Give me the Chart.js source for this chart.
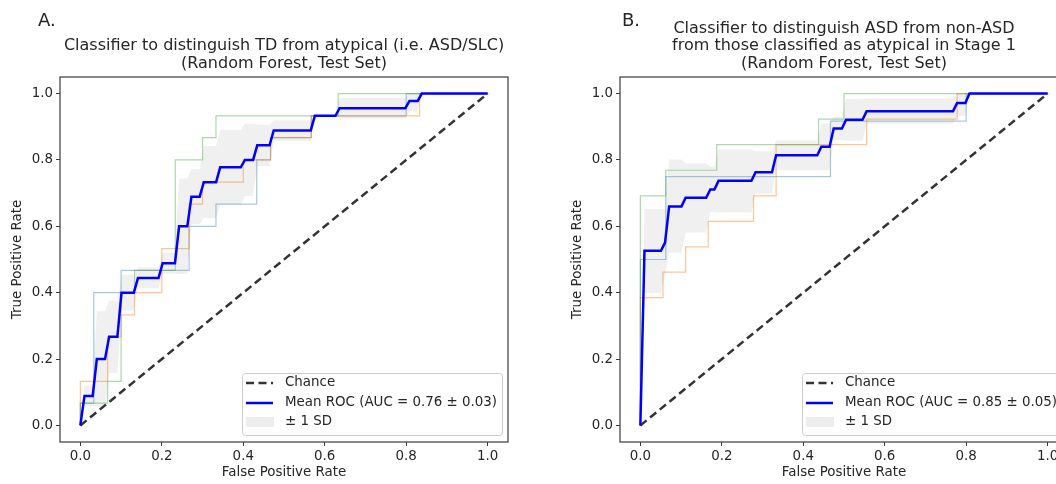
<!DOCTYPE html>
<html>
<head>
<meta charset="utf-8">
<script src="https://cdn.jsdelivr.net/npm/chart.js@4.4.0/dist/chart.umd.min.js"></script>
<style>
    html, body { margin: 0; padding: 0; background: #fff; overflow: hidden; width: 1056px; height: 484px; }
    canvas { position: absolute; top: 0; }
    #rocA { left: 0; }
    #rocB { left: 560px; }
</style>
</head>
<body>
<canvas id="rocA" width="528" height="484"></canvas>
<canvas id="rocB" width="528" height="484"></canvas>
<script>
// Shared ticks for both ROC panels
const xTicks = [0, 0.2, 0.4, 0.6, 0.8, 1.0];
const yTicks = [0, 0.2, 0.4, 0.6, 0.8, 1.0];
const chanceLine = [0, 1];

// Stage 1: TD vs atypical, ROC corners of the three folds
const foldA1Fpr = [0, 0, 0.033, 0.033, 0.1, 0.1, 0.267, 0.267, 0.333, 0.333, 0.433, 0.433, 0.467, 0.467, 0.567, 0.567, 0.8, 0.8, 1];
const foldA1Tpr = [0, 0.067, 0.067, 0.4, 0.4, 0.467, 0.467, 0.6, 0.6, 0.667, 0.667, 0.8, 0.8, 0.867, 0.867, 0.933, 0.933, 1, 1];
const foldA2Fpr = [0, 0, 0.067, 0.067, 0.1, 0.1, 0.133, 0.133, 0.2, 0.2, 0.267, 0.267, 0.3, 0.3, 0.4, 0.4, 0.467, 0.467, 0.567, 0.567, 0.833, 0.833, 1];
const foldA2Tpr = [0, 0.133, 0.133, 0.267, 0.267, 0.333, 0.333, 0.4, 0.4, 0.533, 0.533, 0.667, 0.667, 0.733, 0.733, 0.8, 0.8, 0.867, 0.867, 0.933, 0.933, 1, 1];
const foldA3Fpr = [0, 0, 0.067, 0.067, 0.1, 0.1, 0.133, 0.133, 0.233, 0.233, 0.3, 0.3, 0.333, 0.333, 0.633, 0.633, 1];
const foldA3Tpr = [0, 0.067, 0.067, 0.133, 0.133, 0.4, 0.4, 0.467, 0.467, 0.8, 0.8, 0.867, 0.867, 0.933, 0.933, 1, 1];

// Stage 1 mean ROC and +/- 1 SD band
const meanAFpr = [0, 0.0101, 0.0303, 0.0404, 0.0606, 0.0707, 0.0909, 0.1010, 0.1313, 0.1414, 0.1919, 0.2020, 0.2323, 0.2424, 0.2626, 0.2727, 0.2929, 0.3030, 0.3333, 0.3434, 0.3939, 0.4040, 0.4242, 0.4343, 0.4646, 0.4747, 0.5657, 0.5758, 0.6263, 0.6364, 0.7980, 0.8081, 0.8283, 0.8384, 1];
const meanATpr = [0, 0.089, 0.089, 0.2, 0.2, 0.267, 0.267, 0.4, 0.4, 0.444, 0.444, 0.489, 0.489, 0.6, 0.6, 0.689, 0.689, 0.733, 0.733, 0.778, 0.778, 0.8, 0.8, 0.844, 0.844, 0.889, 0.889, 0.933, 0.933, 0.956, 0.956, 0.978, 0.978, 1, 1];
const lowA = [0, 0.058, 0.058, 0.056, 0.056, 0.158, 0.158, 0.346, 0.346, 0.413, 0.413, 0.457, 0.457, 0.456, 0.456, 0.606, 0.606, 0.624, 0.624, 0.664, 0.664, 0.691, 0.691, 0.782, 0.782, 0.857, 0.857, 0.933, 0.933, 0.924, 0.924, 0.946, 0.946, 1, 1];
const highA = [0, 0.120, 0.120, 0.344, 0.344, 0.376, 0.376, 0.454, 0.454, 0.476, 0.476, 0.520, 0.520, 0.744, 0.744, 0.772, 0.772, 0.842, 0.842, 0.891, 0.891, 0.909, 0.909, 0.907, 0.907, 0.920, 0.920, 0.933, 0.933, 0.987, 0.987, 1, 1, 1, 1];

// Stage 2: ASD vs non-ASD, ROC corners of the three folds
const foldB1Fpr = [0, 0, 0.0625, 0.0625, 0.4667, 0.4667, 0.8, 0.8, 1];
const foldB1Tpr = [0, 0.5, 0.5, 0.75, 0.75, 0.917, 0.917, 1, 1];
const foldB2Fpr = [0, 0, 0.0556, 0.0556, 0.1111, 0.1111, 0.1667, 0.1667, 0.2778, 0.2778, 0.3333, 0.3333, 0.5556, 0.5556, 0.7778, 0.7778, 1];
const foldB2Tpr = [0, 0.385, 0.385, 0.462, 0.462, 0.538, 0.538, 0.615, 0.615, 0.692, 0.692, 0.846, 0.846, 0.923, 0.923, 1, 1];
const foldB3Fpr = [0, 0, 0.0625, 0.0625, 0.1875, 0.1875, 0.4375, 0.4375, 0.5, 0.5, 1];
const foldB3Tpr = [0, 0.692, 0.692, 0.769, 0.769, 0.846, 0.846, 0.923, 0.923, 1, 1];

// Stage 2 mean ROC and +/- 1 SD band
const meanBFpr = [0, 0.0101, 0.0505, 0.0606, 0.0707, 0.1010, 0.1111, 0.1616, 0.1717, 0.1818, 0.1919, 0.2727, 0.2828, 0.3232, 0.3333, 0.4343, 0.4444, 0.4646, 0.4747, 0.4949, 0.5051, 0.5455, 0.5556, 0.7677, 0.7778, 0.7980, 0.8081, 1];
const meanBTpr = [0, 0.526, 0.526, 0.551, 0.660, 0.660, 0.686, 0.686, 0.711, 0.711, 0.737, 0.737, 0.763, 0.763, 0.814, 0.814, 0.840, 0.840, 0.895, 0.895, 0.921, 0.921, 0.947, 0.947, 0.972, 0.972, 1, 1];
const lowB = [0, 0.399, 0.399, 0.451, 0.520, 0.520, 0.581, 0.581, 0.643, 0.643, 0.642, 0.642, 0.699, 0.699, 0.769, 0.769, 0.769, 0.769, 0.860, 0.860, 0.858, 0.858, 0.909, 0.909, 0.933, 0.933, 1, 1];
const highB = [0, 0.652, 0.652, 0.652, 0.801, 0.801, 0.790, 0.790, 0.780, 0.780, 0.832, 0.832, 0.826, 0.826, 0.859, 0.859, 0.910, 0.910, 0.930, 0.930, 0.984, 0.984, 0.985, 0.985, 1, 1, 1, 1];

const titleA = ['Classifier to distinguish TD from atypical (i.e. ASD/SLC)', '(Random Forest, Test Set)'];
const titleB = ['Classifier to distinguish ASD from non-ASD', 'from those classified as atypical in Stage 1', '(Random Forest, Test Set)'];
const aucA = 'Mean ROC (AUC = 0.76 \u00b1 0.03)';
const aucB = 'Mean ROC (AUC = 0.85 \u00b1 0.05)';

const FONT = "'DejaVu Sans', sans-serif";
const TEXT = '#262626';
const foldColors = ['rgba(31, 119, 180, 0.4)', 'rgba(255, 127, 14, 0.45)', 'rgba(44, 160, 44, 0.4)'];
const bandColor = 'rgba(128, 128, 128, 0.12)';
const chanceColor = 'rgba(0, 0, 0, 0.8)';
const meanColor = '#0000ff';

function pts(xs, ys) {
    return xs.map((x, i) => ({ x: x, y: ys[i] }));
}

// Frame, panel letter, title and legend box
const panelDecor = {
    id: 'panelDecor',
    afterDraw(chart, args, opts) {
        const ctx = chart.ctx;
        const a = chart.chartArea;
        ctx.save();

        // axes frame on all four sides
        ctx.strokeStyle = '#3a3a3a';
        ctx.lineWidth = 1.2;
        ctx.strokeRect(a.left, a.top, a.right - a.left, a.bottom - a.top);

        // panel letter
        ctx.fillStyle = TEXT;
        ctx.font = '18px ' + FONT;
        ctx.textAlign = 'left';
        ctx.textBaseline = 'middle';
        ctx.fillText(opts.letter, opts.letterX, 21);

        // title, last line sits just above the frame
        ctx.font = '16px ' + FONT;
        ctx.textAlign = 'center';
        const cx = (a.left + a.right) / 2;
        const n = opts.title.length;
        opts.title.forEach((line, i) => {
            ctx.fillText(line, cx, 64 - (n - 1 - i) * 17.8);
        });

        // legend box in the lower right corner
        const w = 260, h = 62;
        const bx = a.right - 6 - w, by = a.bottom - 7 - h;
        ctx.beginPath();
        ctx.roundRect(bx + 0.5, by + 0.5, w, h, 3);
        ctx.fillStyle = 'rgba(255, 255, 255, 0.8)';
        ctx.fill();
        ctx.strokeStyle = '#cccccc';
        ctx.lineWidth = 1;
        ctx.stroke();

        const rows = [by + 10, by + 30, by + 49];
        ctx.lineWidth = 2.5;
        ctx.setLineDash([8, 4.5]);
        ctx.strokeStyle = chanceColor;
        ctx.beginPath();
        ctx.moveTo(bx + 4, rows[0]);
        ctx.lineTo(bx + 31, rows[0]);
        ctx.stroke();
        ctx.setLineDash([]);
        ctx.strokeStyle = meanColor;
        ctx.beginPath();
        ctx.moveTo(bx + 4, rows[1]);
        ctx.lineTo(bx + 31, rows[1]);
        ctx.stroke();
        ctx.fillStyle = 'rgba(128, 128, 128, 0.14)';
        ctx.fillRect(bx + 4, rows[2] - 5, 28, 10);

        ctx.fillStyle = TEXT;
        ctx.font = '13.4px ' + FONT;
        ctx.textAlign = 'left';
        ctx.fillText('Chance', bx + 43, rows[0]);
        ctx.fillText(opts.auc, bx + 43, rows[1]);
        ctx.fillText('\u00b1 1 SD', bx + 43, rows[2]);
        ctx.restore();
    }
};

function foldSet(xs, ys, color) {
    return {
        data: pts(xs, ys),
        borderColor: color,
        borderWidth: 1.2,
        pointRadius: 0,
        fill: false
    };
}

function makeRoc(canvasId, folds, meanFpr, meanTpr, low, high, decor) {
    // datasets listed top-most first (Chart.js paints the last one first)
    const datasets = [
        {
            label: 'Mean ROC',
            data: pts(meanFpr, meanTpr),
            borderColor: meanColor,
            borderWidth: 2.5,
            pointRadius: 0,
            fill: false
        },
        {
            label: '+1 SD',
            data: pts(meanFpr, high),
            borderWidth: 0,
            borderColor: 'rgba(0,0,0,0)',
            backgroundColor: bandColor,
            pointRadius: 0,
            fill: { target: 2 }
        },
        {
            label: '-1 SD',
            data: pts(meanFpr, low),
            borderWidth: 0,
            borderColor: 'rgba(0,0,0,0)',
            pointRadius: 0,
            fill: false
        },
        {
            label: 'Chance',
            data: pts(chanceLine, chanceLine),
            borderColor: chanceColor,
            borderWidth: 2.5,
            borderDash: [8, 4.5],
            pointRadius: 0,
            fill: false
        },
        foldSet(folds[2][0], folds[2][1], foldColors[2]),
        foldSet(folds[1][0], folds[1][1], foldColors[1]),
        foldSet(folds[0][0], folds[0][1], foldColors[0])
    ];

    const tickFont = { family: FONT, size: 13.4 };
    return new Chart(document.getElementById(canvasId), {
        type: 'line',
        data: { datasets: datasets },
        options: {
            responsive: false,
            animation: false,
            devicePixelRatio: 1,
            layout: { padding: { top: 77, right: 20, left: 0, bottom: 0 } },
            plugins: {
                legend: { display: false },
                tooltip: { enabled: false },
                panelDecor: decor
            },
            scales: {
                x: {
                    type: 'linear',
                    min: -0.05,
                    max: 1.05,
                    afterBuildTicks: (s) => { s.ticks = xTicks.map(v => ({ value: v })); },
                    afterFit: (s) => { s.height = 42; },
                    ticks: {
                        color: TEXT,
                        font: tickFont,
                        padding: 2,
                        maxRotation: 0,
                        callback: (v) => v.toFixed(1)
                    },
                    grid: { drawOnChartArea: false, drawTicks: true, tickLength: 4, color: '#3a3a3a' },
                    border: { display: false },
                    title: { display: true, text: 'False Positive Rate', color: TEXT, font: tickFont, padding: { top: 0, bottom: 3 } }
                },
                y: {
                    type: 'linear',
                    min: -0.05,
                    max: 1.05,
                    afterBuildTicks: (s) => { s.ticks = yTicks.map(v => ({ value: v })); },
                    afterFit: (s) => { s.width = 60; },
                    ticks: {
                        color: TEXT,
                        font: tickFont,
                        padding: 3,
                        callback: (v) => v.toFixed(1)
                    },
                    grid: { drawOnChartArea: false, drawTicks: true, tickLength: 4, color: '#3a3a3a' },
                    border: { display: false },
                    title: { display: true, text: 'True Positive Rate', color: TEXT, font: tickFont, padding: { top: 9, bottom: 0 } }
                }
            }
        },
        plugins: [panelDecor]
    });
}

makeRoc('rocA',
    [[foldA1Fpr, foldA1Tpr], [foldA2Fpr, foldA2Tpr], [foldA3Fpr, foldA3Tpr]],
    meanAFpr, meanATpr, lowA, highA,
    { letter: 'A.', letterX: 38, title: titleA, auc: aucA });

makeRoc('rocB',
    [[foldB1Fpr, foldB1Tpr], [foldB2Fpr, foldB2Tpr], [foldB3Fpr, foldB3Tpr]],
    meanBFpr, meanBTpr, lowB, highB,
    { letter: 'B.', letterX: 62, title: titleB, auc: aucB });
</script>
</body>
</html>
